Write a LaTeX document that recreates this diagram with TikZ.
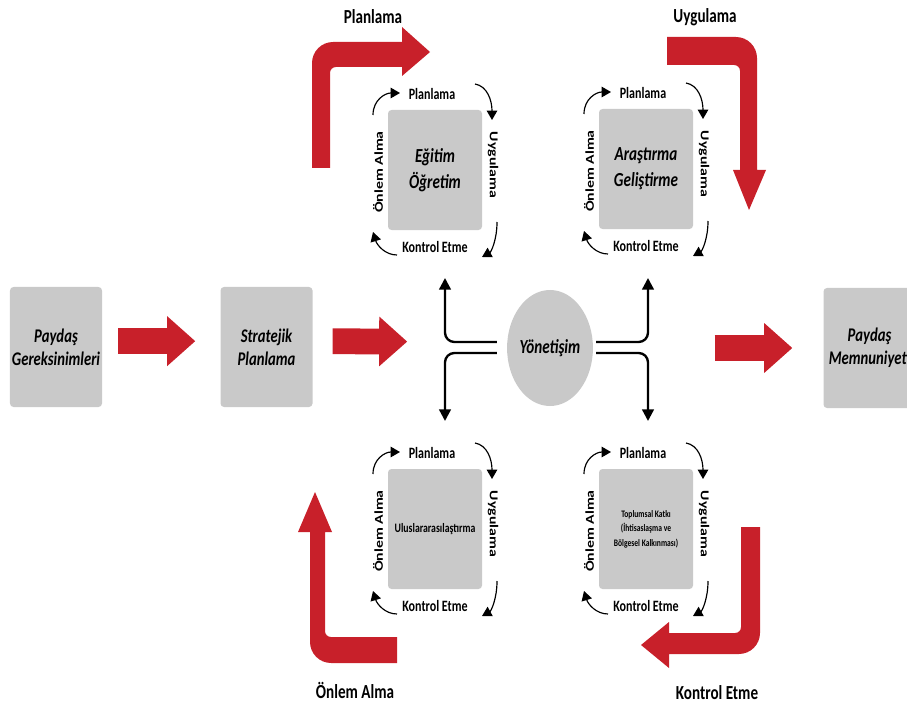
\documentclass[tikz,border=0pt]{standalone}
\usepackage{fontspec}
\setmainfont{Carlito}[FakeStretch=0.76]
\newfontfamily\uprfont{Carlito}
\usetikzlibrary{arrows.meta,shapes.geometric}
\definecolor{arrred}{HTML}{C8202A}
\definecolor{boxgray}{HTML}{C9C9C9}

\tikzset{
  mainbox/.style={fill=boxgray, rounded corners=3pt, inner sep=0pt, align=center,
    minimum width=2.76cm, minimum height=3.6cm,
    font=\fontsize{16.5}{19.5}\selectfont\bfseries\itshape},
  qbox/.style={fill=boxgray, rounded corners=3pt, inner sep=0pt, align=center,
    minimum width=2.82cm, minimum height=3.6cm},
  govern/.style={ellipse, fill=boxgray, inner sep=0pt,
    minimum width=2.52cm, minimum height=3.48cm,
    font=\fontsize{17}{20}\selectfont\bfseries\itshape},
  biglbl/.style={font=\fontsize{17}{20}\selectfont\bfseries},
  qlbl/.style={font=\fontsize{13.5}{16}\selectfont\bfseries},
  uplbl/.style={font=\uprfont\fontsize{13.5}{16}\selectfont\bfseries, rotate=90, yscale=0.76},
  downlbl/.style={font=\uprfont\fontsize{13.5}{16}\selectfont\bfseries, rotate=-90, yscale=0.76},
  fatarr/.style={draw=arrred, line width=22pt, -{Triangle[width=41pt,length=24pt]}},
  redarr/.style={fill=arrred},
  conn/.style={line width=2pt, rounded corners=8pt, -{Triangle[width=10pt,length=10pt]}},
  cyc/.style={line width=1pt, -{Triangle[width=9pt,length=8pt]}}
}

\begin{document}
\begin{tikzpicture}[x=0.03cm, y=-0.03cm]
  \useasboundingbox (0,0) rectangle (907,708);
  \clip (0,0) rectangle (907,708);

  % main flow
  \node[mainbox] (pg) at (56,347) {Paydaş\\Gereksinimleri};
  \node[mainbox] (sp) at (266.5,347) {Stratejik\\Planlama};
  \node[govern] (yon) at (550,348) {Yönetişim};
  \node[mainbox] (pm) at (869.5,348) {Paydaş\\Memnuniyeti};

  \draw[fatarr, shorten <=13.6pt, shorten >=21.3pt] ([yshift=5pt]pg.east) -- ([yshift=5pt]sp.west);
  \draw[fatarr, shorten <=17pt, shorten >=85pt] ([yshift=5pt]sp.east) -- ([yshift=5pt]yon.west);
  \draw[fatarr, shorten <=103.7pt, shorten >=26.4pt] (yon.east) -- (pm.west);

  % branches out of the governance node
  \coordinate (tl) at (445,278);
  \coordinate (bl) at (445,421);
  \coordinate (tr) at (648,278);
  \coordinate (br) at (648,421);
  \draw[conn] ([shift={(-10,-6)}]yon.west) -| (tl);
  \draw[conn] ([shift={(-10,5)}]yon.west) -| (bl);
  \draw[conn] ([shift={(3,-6)}]yon.east) -| (tr);
  \draw[conn] ([shift={(3,5)}]yon.east) -| (br);

  % four units with their small cycle
  \foreach \nm/\cx/\cy/\fs/\txt in {
      egitim/435/170/{\fontsize{17}{22}\selectfont\bfseries\itshape}/{Eğitim\\Öğretim},
      arge/646/169/{\fontsize{17}{22}\selectfont\bfseries\itshape}/{Araştırma\\Geliştirme},
      ulus/435/529/{\fontsize{11}{13}\selectfont\bfseries}/{Uluslararasılaştırma},
      toplum/646/529/{\fontsize{8.5}{12.5}\selectfont\bfseries}/{Toplumsal Katkı\\(İhtisaslaşma ve\\Bölgesel Kalkınması)}}{
    \begin{scope}[shift={(\cx,\cy)}]
      \node[qbox, font=\fs] (\nm) at (0,0) {\txt};
      \node[qlbl] (\nm-p) at (-3,-76) {Planlama};
      \node[downlbl] (\nm-u) at (58,-5) {Uygulama};
      \node[qlbl] (\nm-k) at (0,77) {Kontrol Etme};
      \node[uplbl] (\nm-o) at (-57,2) {Önlem Alma};
      \draw[cyc] (-62,-55) .. controls (-62,-70) and (-50,-77) .. (-35,-77);
      \draw[cyc] (40,-86) .. controls (52,-84) and (57,-70) .. (57,-50);
      \draw[cyc] (62,52) .. controls (62,70) and (56,82) .. (47,87);
      \draw[cyc] (-38,85) .. controls (-50,85) and (-58,75) .. (-62,62);
    \end{scope}
  }

  % big red cycle arrows
  \fill[redarr] (312,168) -- (312,100) [rounded corners=18pt] -- (312,42) -- (360,42)
    [sharp corners] -- (402,42) -- (402,27) -- (430,52) -- (402,76) -- (402,67) -- (370,67)
    [rounded corners=5pt] -- (330,67) -- (330,110) [sharp corners] -- (330,168) -- cycle;
  \fill[redarr] (667,37) -- (700,37) [rounded corners=18pt] -- (757,37) -- (757,100)
    [sharp corners] -- (757,170) -- (766,170) -- (749,210) -- (733,170) -- (740,170) -- (740,110)
    [rounded corners=5pt] -- (740,65) -- (700,65) [sharp corners] -- (667,65) -- cycle;
  \fill[redarr] (741,527) -- (760,527) -- (760,590) [rounded corners=18pt] -- (760,654) -- (700,654)
    [sharp corners] -- (669,654) -- (669,668) -- (641,645) -- (669,622) -- (669,633) -- (700,633)
    [rounded corners=5pt] -- (741,633) -- (741,590) [sharp corners] -- cycle;
  \fill[redarr] (397,663) -- (350,663) [rounded corners=18pt] -- (310,663) -- (310,600)
    [sharp corners] -- (310,532) -- (298,532) -- (315,492) -- (332,532) -- (325,532) -- (325,590)
    [rounded corners=5pt] -- (325,637) -- (360,637) [sharp corners] -- (397,637) -- cycle;

  % titles of the big cycle
  \node[biglbl] (tplan) at (373,17) {Planlama};
  \node[biglbl] (tuyg) at (705,17) {Uygulama};
  \node[biglbl] (tonl) at (355,690) {Önlem Alma};
  \node[biglbl] (tkon) at (717,693) {Kontrol Etme};
\end{tikzpicture}
\end{document}
